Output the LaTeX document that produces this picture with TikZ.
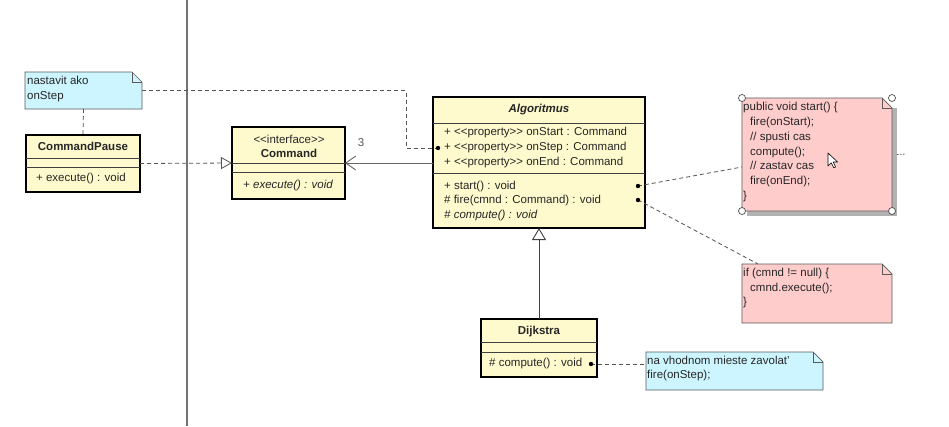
\documentclass[tikz,border=0pt]{standalone}
\usepackage{fontspec}
\setmainfont{Liberation Sans}
\usetikzlibrary{arrows.meta}
\definecolor{clsfill}{RGB}{255,250,205}
\definecolor{cyannote}{RGB}{204,245,255}
\definecolor{pinknote}{RGB}{255,204,204}
\definecolor{linegray}{RGB}{85,85,85}
\definecolor{bordergray}{RGB}{90,90,90}
\newcommand{\umlnote}[2]{%
  \draw[notestyle, fill=#2] (#1.north west) -- ([xshift=-10pt]#1.north east) -- ([yshift=-10pt]#1.north east) -- (#1.south east) -- (#1.south west) -- cycle;
  \draw[notestyle] ([xshift=-10pt]#1.north east) -- ([xshift=-10pt,yshift=-10pt]#1.north east) -- ([yshift=-10pt]#1.north east);}
\begin{document}
\begin{tikzpicture}[x=1pt,y=-1pt,
  font=\fontsize{11.5}{14}\selectfont,
  classbox/.style={draw=black, line width=1.6pt, fill=clsfill, inner sep=0pt, outer sep=0pt, anchor=north west},
  sepline/.style={draw=black!75, line width=0.8pt},
  notebox/.style={inner sep=0pt, outer sep=0pt, anchor=north west},
  notestyle/.style={draw=bordergray, line width=0.7pt},
  txt/.style={inner sep=0pt, anchor=mid west, text=black!85},
  ctxt/.style={inner sep=0pt, anchor=mid, text=black!85},
  conn/.style={draw=linegray, line width=0.8pt, dash pattern=on 4pt off 3pt},
  dotc/.style={fill=black},
  handle/.style={draw=black!70, fill=white, line width=0.7pt}]
\useasboundingbox (0,0) rectangle (949,426);
\fill[white] (0,0) rectangle (949,426);
% vertical divider
\coordinate (vtop) at (187,0);
\coordinate (vbot) at (187,426);
\draw[draw=black!55, line width=1.3pt] (vtop) -- (vbot);

% ---------- class boxes ----------
\node[classbox, minimum width=114pt, minimum height=57pt] (cp) at (26,135) {};
\draw[sepline] (cp.west |- 0,158) -- (cp.east |- 0,158);
\draw[sepline] (cp.west |- 0,167) -- (cp.east |- 0,167);
\node[ctxt, font=\fontsize{11.5}{14}\selectfont\bfseries] (cpname) at (83,148) {CommandPause};
\node[txt] (cpop) at (36,179) {+ execute() : void};

\node[classbox, minimum width=113pt, minimum height=72pt] (cmd) at (232,127) {};
\draw[sepline] (cmd.west |- 0,163) -- (cmd.east |- 0,163);
\draw[sepline] (cmd.west |- 0,172) -- (cmd.east |- 0,172);
\node[ctxt] (cmdst) at (289,141) {<{}<interface>{}>};
\node[ctxt, font=\fontsize{11.5}{14}\selectfont\bfseries] (cmdname) at (289,155) {Command};
\node[txt, font=\fontsize{11.5}{14}\selectfont\itshape] (cmdop) at (243,186) {+ execute() : void};

\node[classbox, minimum width=212pt, minimum height=131pt] (alg) at (433,97) {};
\draw[sepline] (alg.west |- 0,123) -- (alg.east |- 0,123);
\draw[sepline] (alg.west |- 0,173) -- (alg.east |- 0,173);
\node[ctxt, font=\fontsize{11.5}{14}\selectfont\bfseries\itshape] (algname) at (539,110) {Algoritmus};
\node[txt] (a1) at (444,133) {+ <{}<property>{}> onStart : Command};
\node[txt] (a2) at (444,148) {+ <{}<property>{}> onStep : Command};
\node[txt] (a3) at (444,163) {+ <{}<property>{}> onEnd : Command};
\node[txt] (o1) at (444,187) {+ start() : void};
\node[txt] (o2) at (444,201) {\# fire(cmnd : Command) : void};
\node[txt, font=\fontsize{11.5}{14}\selectfont\itshape] (o3) at (444,216) {\# compute() : void};

\node[classbox, minimum width=116pt, minimum height=58pt] (dij) at (481,319) {};
\draw[sepline] (dij.west |- 0,342) -- (dij.east |- 0,342);
\draw[sepline] (dij.west |- 0,352) -- (dij.east |- 0,352);
\node[ctxt, font=\fontsize{11.5}{14}\selectfont\bfseries] (dijname) at (539,332) {Dijkstra};
\node[txt] (dijop) at (489,364) {\# compute() : void};

% ---------- notes ----------
\node[notebox, minimum width=117pt, minimum height=37pt] (n1) at (25,72) {};
\umlnote{n1}{cyannote}
\node[txt] (n1a) at (27,82) {nastavit ako};
\node[txt] (n1b) at (27,97) {onStep};

\node[notebox, minimum width=150pt, minimum height=113pt] (n2) at (742,98) {};
\fill[black!30] ([shift={(5pt,-10pt)}]n2.north east) rectangle ([shift={(5pt,-5pt)}]n2.south west);
\umlnote{n2}{pinknote}
\node[txt] (n2a) at (743,108) {public void start() \{};
\node[txt] (n2b) at (750,123) {fire(onStart);};
\node[txt] (n2c) at (750,138) {// spusti cas};
\node[txt] (n2d) at (750,153) {compute();};
\node[txt] (n2e) at (750,167) {// zastav cas};
\node[txt] (n2f) at (750,182) {fire(onEnd);};
\node[txt] (n2g) at (743,197) {\}};
\draw[handle] (n2.north west) circle (3.5pt);
\draw[handle] (n2.north east) circle (3.5pt);
\draw[handle] (n2.south west) circle (3.5pt);
\draw[handle] (n2.south east) circle (3.5pt);
\coordinate (curtip) at (828,153);
\draw[fill=white, line width=0.6pt, line join=round] (curtip) -- ++(0,13) -- ++(3.2,-3.2) -- ++(2.6,5) -- ++(1.8,-0.9) -- ++(-2.5,-4.9) -- ++(4.5,0) -- cycle;

\node[notebox, minimum width=150pt, minimum height=59pt] (n3) at (742,264) {};
\umlnote{n3}{pinknote}
\node[txt] (n3a) at (743,274) {if (cmnd != null) \{};
\node[txt] (n3b) at (750,289) {cmnd.execute();};
\node[txt] (n3c) at (743,303) {\}};

\node[notebox, minimum width=177pt, minimum height=38pt] (n4) at (646,352) {};
\umlnote{n4}{cyannote}
\node[txt] (n4a) at (647,362) {na vhodnom mieste zavolat'};
\node[txt] (n4b) at (647,376) {fire(onStep);};

% ---------- connectors ----------
\coordinate (stepdot) at (438,148);
\coordinate (startdot) at (638,186);
\coordinate (firedot) at (638,200);
\coordinate (compdot) at (591,364);
\coordinate (n2in) at (742,167);
\coordinate (n3in) at (758,264);
\coordinate (n2out) at (906,154);

\draw[conn] (n1.south) -- (cp.north);
\draw[conn] (n1.east) -- ++(264,0) |- (stepdot);
\draw[conn, -{Triangle[open, length=11pt, width=12pt, fill=white]}] (cp.east) -- (cmd.west);
\draw[draw=black!60, line width=0.9pt, -{Straight Barb[length=10pt, width=14pt]}] (cmd.east -| alg.west) -- (cmd.east);
\node[ctxt, text=black!65] (mult) at (361,144) {3};
\draw[draw=black!75, line width=0.9pt, -{Triangle[open, length=12pt, width=14pt, fill=white]}] (dij.north) -- (alg.south);
\draw[conn] (startdot) -- (n2in);
\draw[conn] (firedot) -- (n3in);
\draw[conn] (compdot) -- (compdot -| n4.west);
\draw[draw=linegray, line width=0.8pt, dash pattern=on 1.5pt off 1.5pt] ([xshift=5pt]n2.east) -- (n2out);
\fill[dotc] (stepdot) circle (2.2pt);
\fill[dotc] (startdot) circle (2.2pt);
\fill[dotc] (firedot) circle (2.2pt);
\fill[dotc] (compdot) circle (2.2pt);
\end{tikzpicture}
\end{document}
